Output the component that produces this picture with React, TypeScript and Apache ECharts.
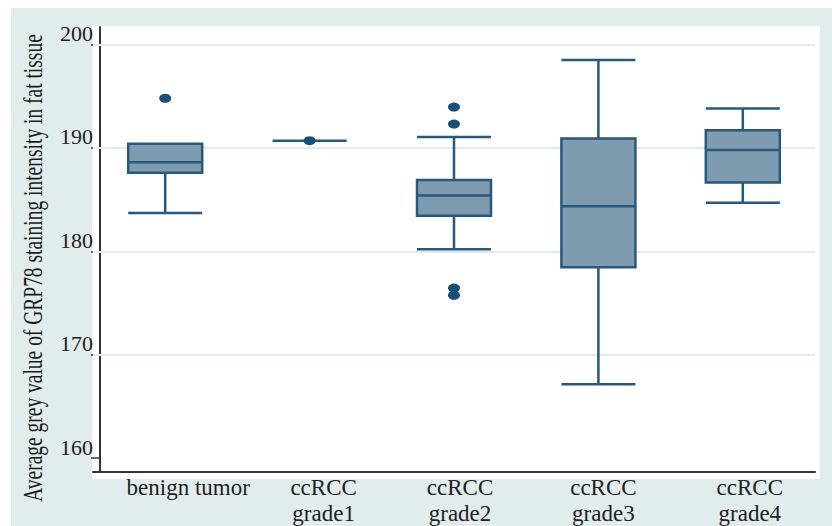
import React, { useEffect, useRef } from "react";
import * as echarts from "echarts";

const categories = ["benign tumor", "ccRCC\ngrade1", "ccRCC\ngrade2", "ccRCC\ngrade3", "ccRCC\ngrade4"];
// [min, Q1, median, Q3, max]
const benignBox = [183.7, 187.6, 188.6, 190.4, 190.4];
const grade1Box = [190.7, 190.7, 190.7, 190.7, 190.7];
const grade2Box = [180.2, 183.45, 185.4, 186.9, 191.05];
const grade3Box = [167.15, 178.45, 184.35, 190.9, 198.5];
const grade4Box = [184.7, 186.65, 189.8, 191.7, 193.8];
// [category index, value]
const outlierPoints = [
  [0, 194.8],
  [1, 190.7],
  [2, 193.95],
  [2, 192.3],
  [2, 176.45],
  [2, 175.75],
];
const yTickValues = [160, 170, 180, 190, 200];
const gridLineValues = [170, 180, 190, 200];
const yAxisTitle = "Average grey value of GRP78 staining intensity in fat tissue";

const SERIF = "'Liberation Serif', 'DejaVu Serif', serif";
const BOX_FILL = "#7f9baf";
const BOX_STROKE = "#265880";
const DOT = "#164f79";
const LABEL_SHIFT = [46, 28, 12, 10, 14];

export default function App() {
  const ref = useRef<HTMLDivElement>(null);
  useEffect(() => {
    if (!ref.current) return;
    const chart = echarts.init(ref.current, undefined, { renderer: "svg" });
    const rich: Record<string, any> = {};
    LABEL_SHIFT.forEach((s, i) => {
      rich["c" + i] = {
        fontFamily: SERIF,
        fontSize: 23,
        lineHeight: 26,
        color: "#222222",
        padding: [0, 0, 0, s],
      };
    });
    chart.setOption({
      animation: false,
      backgroundColor: "#ffffff",
      graphic: [
        { type: "rect", z: -10, silent: true, shape: { x: 11, y: 8, width: 821, height: 518 }, style: { fill: "#e1ecec" } },
        { type: "rect", z: -9, silent: true, shape: { x: 92, y: 26, width: 728, height: 453 }, style: { fill: "#ffffff" } },
        {
          type: "text",
          x: 32,
          y: 268,
          rotation: Math.PI / 2,
          scaleY: 1.45,
          silent: true,
          style: {
            text: yAxisTitle,
            fontSize: 19.5,
            fontFamily: SERIF,
            fill: "#1a1a1a",
            align: "center",
            verticalAlign: "middle",
          },
        },
      ],
      grid: { left: 93, right: 17, top: 27, bottom: 51, containLabel: false },
      xAxis: {
        type: "category",
        data: categories,
        axisLine: { show: true, lineStyle: { color: "#333333", width: 2 } },
        axisTick: { show: false },
        splitLine: { show: false },
        axisLabel: {
          interval: 0,
          fontFamily: SERIF,
          fontSize: 23,
          lineHeight: 26,
          color: "#222222",
          margin: 2,
          formatter: (value: string, index: number) =>
            value
              .split("\n")
              .map((line) => `{c${index}|${line}}`)
              .join("\n"),
          rich,
        },
      },
      yAxis: {
        type: "value",
        min: 158.66,
        max: 201.69,
        offset: -7,
        axisLine: { show: true, lineStyle: { color: "#333333", width: 2 } },
        axisTick: { show: true, customValues: yTickValues, length: 9, lineStyle: { color: "#333333", width: 1.5 } },
        axisLabel: {
          customValues: yTickValues,
          fontFamily: SERIF,
          fontSize: 22,
          color: "#222222",
          margin: 7,
          verticalAlign: "bottom",
        },
        splitLine: { show: false },
      },
      series: [
        {
          type: "line",
          data: [],
          z: 1,
          silent: true,
          markLine: {
            z: 1,
            silent: true,
            symbol: "none",
            label: { show: false },
            lineStyle: { color: "#deeaed", width: 2, type: "solid" },
            data: gridLineValues.map((v) => ({ yAxis: v })),
          },
        },
        {
          type: "boxplot",
          z: 3,
          boxWidth: [74, 74],
          itemStyle: { color: BOX_FILL, borderColor: BOX_STROKE, borderWidth: 2.5 },
          data: [benignBox, grade1Box, grade2Box, grade3Box, grade4Box],
        },
        {
          type: "scatter",
          z: 4,
          symbol: "circle",
          symbolSize: [12, 9],
          itemStyle: { color: DOT, opacity: 1 },
          data: outlierPoints,
        },
      ],
    });
    return () => chart.dispose();
  }, []);
  return <div ref={ref} style={{ position: "fixed", left: 0, top: 0, width: 832, height: 526 }} />;
}
